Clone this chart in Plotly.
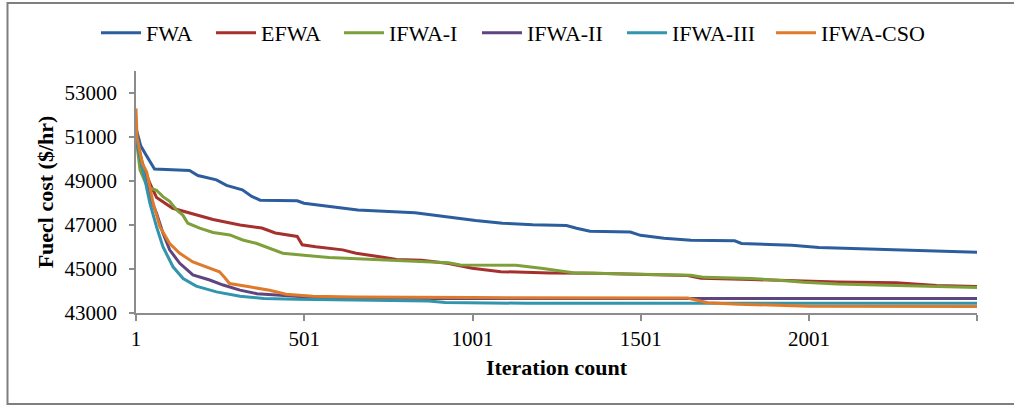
import plotly.graph_objects as go

# Convergence history of six fireworks variants (best fuel cost per iteration)
fwa_iter = [1, 15, 30, 45, 56, 160, 185, 240, 270, 317, 345, 370, 480, 500, 580, 660, 830, 900, 960,
            1010, 1090, 1180, 1280, 1310, 1350, 1470, 1500, 1570, 1650, 1780, 1800, 1910, 1950, 2030,
            2200, 2420, 2500]
fwa_cost = [51400, 50600, 50200, 49800, 49540, 49480, 49250, 49050, 48800, 48600, 48300, 48130, 48100,
            47990, 47850, 47680, 47560, 47420, 47330, 47200, 47080, 47010, 46980, 46850, 46720, 46680,
            46530, 46400, 46310, 46280, 46160, 46120, 46080, 45980, 45900, 45830, 45760]

efwa_iter = [1, 20, 42, 62, 110, 160, 230, 310, 375, 415, 465, 480, 495, 535, 615, 655, 735, 775, 850,
             930, 1000, 1085, 1230, 1360, 1640, 1680, 1830, 1950, 2085, 2260, 2340, 2380, 2500]
efwa_cost = [51000, 49800, 48900, 48250, 47760, 47540, 47250, 47000, 46860, 46640, 46520, 46480, 46100,
             46010, 45870, 45720, 45530, 45430, 45400, 45250, 45030, 44880, 44820, 44810, 44700, 44580,
             44520, 44460, 44410, 44370, 44310, 44250, 44200]

ifwa1_iter = [1, 13, 30, 42, 62, 81, 101, 121, 140, 155, 190, 230, 280, 318, 358, 398, 437, 500, 575,
              675, 775, 930, 965, 1130, 1205, 1300, 1500, 1650, 1690, 1830, 1930, 1985, 2085, 2260,
              2380, 2500]
ifwa1_cost = [51000, 49500, 48900, 48680, 48580, 48290, 48080, 47700, 47450, 47080, 46860, 46660, 46550,
              46320, 46170, 45950, 45720, 45620, 45520, 45450, 45370, 45280, 45180, 45170, 45030, 44830,
              44760, 44720, 44620, 44570, 44470, 44400, 44320, 44250, 44190, 44160]

ifwa2_iter = [1, 20, 42, 62, 81, 101, 131, 170, 220, 260, 310, 360, 430, 530, 700, 900, 2500]
ifwa2_cost = [51000, 49600, 48300, 47530, 46640, 45870, 45260, 44730, 44500, 44270, 44040, 43880, 43810,
              43710, 43680, 43660, 43660]

ifwa3_iter = [1, 21, 42, 62, 81, 111, 141, 180, 240, 310, 380, 480, 700, 870, 920, 1150, 1160, 2500]
ifwa3_cost = [51000, 49500, 48000, 46920, 46010, 45100, 44570, 44220, 43960, 43760, 43660, 43620, 43580,
              43550, 43480, 43470, 43440, 43440]

cso_iter = [1, 4, 20, 33, 52, 72, 101, 131, 170, 220, 249, 265, 279, 338, 398, 447, 526, 650, 820, 1000,
            1640, 1660, 1700, 1790, 1890, 2000, 2500]
cso_cost = [52300, 51000, 49800, 49400, 47990, 46920, 46160, 45710, 45320, 45020, 44870, 44600, 44340,
            44190, 44030, 43850, 43760, 43730, 43700, 43700, 43680, 43600, 43470, 43400, 43350, 43310,
            43300]

series_names = ["FWA", "EFWA", "IFWA-I", "IFWA-II", "IFWA-III", "IFWA-CSO"]
series_x = [fwa_iter, efwa_iter, ifwa1_iter, ifwa2_iter, ifwa3_iter, cso_iter]
series_y = [fwa_cost, efwa_cost, ifwa1_cost, ifwa2_cost, ifwa3_cost, cso_cost]
series_colors = ["#2C5E9E", "#A5302E", "#7EA03A", "#5E457F", "#3195AD", "#E07A2B"]

x_tick_vals = [1, 501, 1001, 1501, 2001, 2500]
x_tick_text = ["1", "501", "1001", "1501", "2001", ""]
y_tick_vals = [43000, 45000, 47000, 49000, 51000, 53000]

W, H = 1014, 407
L, R, T, B = 136, 977, 71, 313  # plot area in pixels

# left edge (px) of each legend entry along the top row
legend_left_px = [96, 211, 339, 477, 622, 771]


def px_x(p):
    return (p - L) / (R - L)


def px_y(p):
    return (B - p) / (B - T)


serif = "Liberation Serif"
axis_grey = "#8C8C8C"

fig = go.Figure()
legend_layouts = {}
for i, (name, xs, ys, col) in enumerate(zip(series_names, series_x, series_y, series_colors)):
    key = "legend" if i == 0 else f"legend{i + 1}"
    fig.add_trace(go.Scatter(x=xs, y=ys, name=name, mode="lines", legend=key,
                             line=dict(color=col, width=3)))
    legend_layouts[key] = dict(orientation="h", x=px_x(legend_left_px[i]), y=px_y(33),
                               xanchor="left", yanchor="middle",
                               font=dict(family=serif, size=22, color="black"),
                               itemwidth=40, bgcolor="rgba(0,0,0,0)", borderwidth=0)

fig.update_layout(
    width=W, height=H,
    margin=dict(l=L, r=W - R, t=T, b=H - B),
    paper_bgcolor="white", plot_bgcolor="white",
    font=dict(family=serif, size=21, color="black"),
    showlegend=True,
    xaxis=dict(range=[1, 2500], tickmode="array", tickvals=x_tick_vals, ticktext=x_tick_text,
               showgrid=False, zeroline=False, showline=True, linecolor=axis_grey, linewidth=1.5,
               ticks="outside", ticklen=6, tickcolor=axis_grey, tickwidth=1.5,
               ticklabelstandoff=0,
               title=dict(text="<b>Iteration count</b>", font=dict(family=serif, size=22), standoff=10)),
    yaxis=dict(range=[43000, 54000], tickmode="array", tickvals=y_tick_vals,
               tickformat="d",
               showgrid=False, zeroline=False, showline=True, linecolor=axis_grey, linewidth=1.5,
               ticks="outside", ticklen=5, tickcolor=axis_grey, tickwidth=1.5,
               ticklabelstandoff=8,
               title=dict(text="<b>Fuecl cost ($/hr)</b>", font=dict(family=serif, size=22), standoff=5)),
    **legend_layouts,
)

# chart frame
fig.add_shape(type="rect", xref="paper", yref="paper",
              x0=px_x(7.5), x1=px_x(1020), y0=px_y(404), y1=px_y(3),
              line=dict(color="#7F7F7F", width=2), fillcolor="rgba(0,0,0,0)", layer="below")

fig.write_html("out.html")
